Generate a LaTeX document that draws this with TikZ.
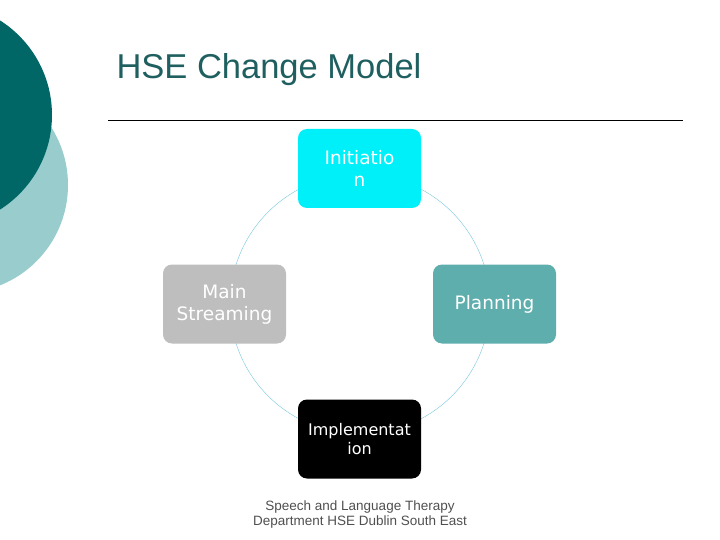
\documentclass[tikz,border=0pt]{standalone}
\usepackage{fontspec}
\setmainfont{Liberation Sans}
\newfontfamily\dv{DejaVu Sans}
\begin{document}
\begin{tikzpicture}[x=1pt,y=-1pt,
  box/.style={rounded corners=9pt,minimum width=123pt,minimum height=79pt,inner sep=2pt,align=center,font=\dv\fontsize{18.5}{22}\selectfont,text=white}]
\useasboundingbox (0,0) rectangle (720,540);
\fill[white] (0,0) rectangle (720,540);
\begin{scope}
\clip (0,0) rectangle (720,540);
\fill[color={rgb,255:red,153;green,204;blue,204}] (-40,185) circle (108);
\fill[color={rgb,255:red,0;green,102;blue,102}] (-60,115) circle (112);
\end{scope}
\node[anchor=west,font=\fontsize{34.5}{40}\selectfont,text={rgb,255:red,31;green,95;blue,95}] (title) at (113,70) {HSE Change Model};
\coordinate (l1) at (108,120); \coordinate (l2) at (683,120);
\draw[line width=0.8pt] (l1) -- (l2);
\node[draw={rgb,255:red,120;green,200;blue,220},circle,minimum size=260pt,inner sep=0pt] (ring) at (360,304) {};
\node[box,fill={rgb,255:red,0;green,240;blue,250}] (init) at (359.5,168.5) {Initiatio\\n};
\node[box,fill={rgb,255:red,95;green,174;blue,174}] (plan) at (494.5,304) {Planning};
\node[box,fill=black,font=\dv\fontsize{16}{19}\selectfont] (impl) at (359.5,439) {Implementat\\ion};
\node[box,fill={rgb,255:red,190;green,190;blue,190}] (main) at (224.5,304) {Main\\Streaming};
\node[align=center,text={rgb,255:red,80;green,80;blue,80},font=\fontsize{13.5}{15}\selectfont] (foot) at (360,515) {Speech and Language Therapy\\Department HSE Dublin South East};
\end{tikzpicture}
\end{document}
